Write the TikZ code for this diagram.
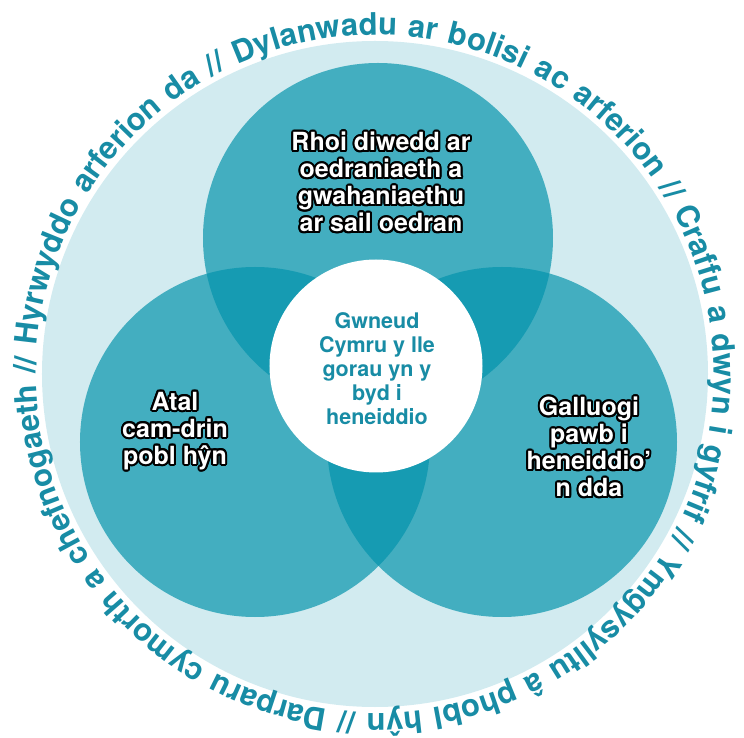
\documentclass[tikz,border=0pt]{standalone}
\usepackage{fontspec}
\setmainfont{TeX Gyre Heros}
\newfontfamily\heavy{texgyreheros-bold.otf}
\usetikzlibrary{decorations.text}
\definecolor{palecol}{HTML}{D2EBF0}
\definecolor{venncol}{HTML}{43AEC0}
\definecolor{lapcol}{HTML}{169BB2}
\definecolor{ringcol}{HTML}{188CA5}
\newcommand{\ringfont}{\heavy\fontsize{31}{31}\selectfont}
% white label with a black rim: name, position, text
\newcommand{\halolabel}[3]{%
  \foreach \a in {0,22.5,...,337.5}
    \node(#1-\a)[lab, text=black] at ([shift={(\a:2)}] #2) {#3};
  \node(#1)[lab] at (#2) {#3};
}

\begin{document}
\begin{tikzpicture}[x=1pt, y=1pt]
\tikzstyle{lab}=[text=white, font=\heavy\fontsize{25}{27}\selectfont, align=center]
\useasboundingbox (-375,-364) rectangle (369,374);

\coordinate(ctop)   at (   3, 136);
\coordinate(cleft)  at (-120, -68);
\coordinate(cright) at ( 127, -68);

\fill[palecol] (0,0) circle (333pt);
\fill[venncol] (ctop) circle (175pt);
\fill[venncol] (cleft) circle (175pt);
\fill[venncol] (cright) circle (175pt);

% overlaps
\begin{scope}
\clip (ctop) circle (175pt);
\fill[lapcol] (cleft) circle (175pt);
\fill[lapcol] (cright) circle (175pt);
\end{scope}
\begin{scope}
\clip (cleft) circle (175pt);
\fill[lapcol] (cright) circle (175pt);
\end{scope}

\node(hub)[circle, fill=white, minimum size=213pt, inner sep=0pt] at (1, 8) {};
\node(hubtxt)[text=ringcol, font=\heavy\fontsize{21.5}{24}\selectfont, align=center] at (2, 5)
  {Gwneud\\Cymru y lle\\gorau yn y\\byd i\\heneiddio};

\halolabel{topl}{6,192}{Rhoi diwedd ar\\oedraniaeth a\\gwahaniaethu\\ar sail oedran}
\halolabel{leftl}{-200,-57}{Atal\\cam-drin\\pobl hŷn}
\halolabel{rightl}{214,-73}{Galluogi\\pawb i\\heneiddio’\\n dda}

% ring text
\path[decorate, decoration={text along path, text color=ringcol,
  text={|\ringfont|Dylanwadu ar bolisi ac arferion // Craffu a dwyn i gyfrif // Ymgysylltu â phobl hŷn // Darparu cymorth a chefnogaeth // Hyrwyddo arferion da //},
  text align={fit to path stretching spaces}}]
  (114:339) arc[start angle=114, end angle=-244, radius=339pt];

\end{tikzpicture}
\end{document}
